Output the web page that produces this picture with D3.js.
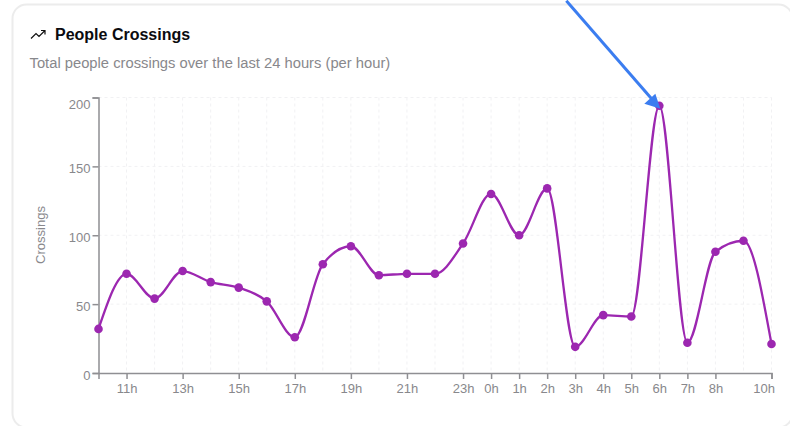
<!DOCTYPE html>
<html>
<head>
<meta charset="utf-8">
<script src="https://cdn.jsdelivr.net/npm/d3@7"></script>
<style>
  html, body { margin: 0; padding: 0; background: #fff; overflow: hidden; }
  text { font-family: "Liberation Sans", Arial, sans-serif; }
</style>
</head>
<body>
<div id="container"></div>
<script>
// hours on the x axis, one slot per hour, the last 10h is a separate slot
var hours = ["10h","11h","12h","13h","14h","15h","16h","17h","18h","19h","20h","21h","22h","23h","0h","1h","2h","3h","4h","5h","6h","7h","8h","9h","10h "];
var crossings = [32,72,54,74,66,62,52,26,79,92,71,72,72,94,130,100,134,19,42,41,194,22,88,96,21];
var xTickLabels = ["11h","13h","15h","17h","19h","21h","23h","0h","1h","2h","3h","4h","5h","6h","7h","8h","10h "];
var xGridHours = ["11h","12h","13h","14h","15h","16h","17h","18h","19h","20h","21h","22h","23h","0h","1h","2h","3h","4h","5h","6h","7h","8h","9h","10h "];
var yTicks = [0,50,100,150,200];

var svgWidth = 790, svgHeight = 426;
var margin = { top: 97.5, right: 18.5, bottom: 53, left: 98.5 },
    width = svgWidth - margin.left - margin.right,
    height = svgHeight - margin.top - margin.bottom;

var root = d3.select("div#container").append("svg")
    .attr("width", svgWidth)
    .attr("height", svgHeight)
    .style("display", "block");

// card outline, runs off the right and bottom of the crop
root.append("rect")
    .attr("x", 12.5).attr("y", 4.5)
    .attr("width", 780).attr("height", 423)
    .attr("rx", 14)
    .attr("fill", "#fff")
    .attr("stroke", "#ececec")
    .attr("stroke-width", 2);

// trending-up icon
root.append("path")
    .attr("d", "M31 38.5l5-5 3 3 6-6M41 30.5h4v4")
    .attr("fill", "none")
    .attr("stroke", "#111")
    .attr("stroke-width", 1.2);

root.append("text")
    .attr("x", 55).attr("y", 39.5)
    .attr("font-size", 16)
    .attr("font-weight", 700)
    .attr("fill", "#0b0b0f")
    .text("People Crossings");

root.append("text")
    .attr("x", 29.5).attr("y", 68)
    .attr("font-size", 14.75)
    .attr("fill", "#88888c")
    .text("Total people crossings over the last 24 hours (per hour)");

var svg = root.append("g")
    .attr("transform", "translate(" + margin.left + "," + margin.top + ")");

var x = d3.scalePoint().domain(hours).range([0, width]);
var y = d3.scaleLinear().domain([0, 200]).range([height, 0]);

// grid
svg.selectAll("line.gridH")
    .data(yTicks.slice(1))
    .enter().append("line")
    .attr("class", "gridH")
    .attr("x1", 0).attr("x2", width)
    .attr("y1", function (d) { return y(d); })
    .attr("y2", function (d) { return y(d); })
    .attr("stroke", "#f1f1f3")
    .attr("stroke-dasharray", "3 3");

svg.selectAll("line.gridV")
    .data(xGridHours)
    .enter().append("line")
    .attr("class", "gridV")
    .attr("x1", function (d) { return x(d); })
    .attr("x2", function (d) { return x(d); })
    .attr("y1", 0).attr("y2", height)
    .attr("stroke", "#f1f1f3")
    .attr("stroke-dasharray", "3 3");

// axes
var xAxis = svg.append("g")
    .attr("transform", "translate(0," + height + ")")
    .call(d3.axisBottom(x).tickValues(xTickLabels).tickSize(6).tickPadding(5));
var yAxis = svg.append("g")
    .call(d3.axisLeft(y).tickValues(yTicks).tickSize(6).tickPadding(2));

[xAxis, yAxis].forEach(function (a) {
    a.selectAll("path, line").attr("stroke", "#8f8f93").attr("stroke-width", 1.5);
    a.selectAll("text")
        .attr("fill", "#88888c")
        .style("font-size", "13px")
        .style("font-family", '"Liberation Sans", Arial, sans-serif');
});

// last label is pulled back inside the plot
xAxis.selectAll("text")
    .filter(function (d) { return d === "10h "; })
    .attr("text-anchor", "end")
    .attr("dx", "3px");

// y labels sit a bit under their ticks, the top one more so
yAxis.selectAll("text")
    .attr("y", function (d) { return d === 200 ? 7 : 2; });

root.append("text")
    .attr("transform", "translate(45,235)rotate(-90)")
    .attr("text-anchor", "middle")
    .attr("font-size", 13)
    .attr("fill", "#88888c")
    .text("Crossings");

// line and dots
var line = d3.line()
    .x(function (d, i) { return x(hours[i]); })
    .y(function (d) { return y(d); })
    .curve(d3.curveMonotoneX);

svg.append("path")
    .datum(crossings)
    .attr("d", line)
    .attr("fill", "none")
    .attr("stroke", "#9c27b0")
    .attr("stroke-width", 2.3);

svg.selectAll("circle.dot")
    .data(crossings)
    .enter().append("circle")
    .attr("class", "dot")
    .attr("cx", function (d, i) { return x(hours[i]); })
    .attr("cy", function (d) { return y(d); })
    .attr("r", 4.3)
    .attr("fill", "#9c27b0");

// blue annotation arrow pasted over the screenshot
var peak = hours[crossings.indexOf(d3.max(crossings))];
var tipX = margin.left + x(peak), tipY = margin.top + y(d3.max(crossings));
root.append("line")
    .attr("x1", tipX - 93).attr("y1", tipY - 105)
    .attr("x2", tipX - 6).attr("y2", tipY - 5)
    .attr("stroke", "#3b7df0")
    .attr("stroke-width", 3);
root.append("path")
    .attr("d", "M" + (tipX + 1) + " " + (tipY + 3)
        + "L" + (tipX - 15) + " " + (tipY - 2)
        + "L" + (tipX - 4) + " " + (tipY - 12) + "Z")
    .attr("fill", "#3b7df0");
</script>
</body>
</html>
